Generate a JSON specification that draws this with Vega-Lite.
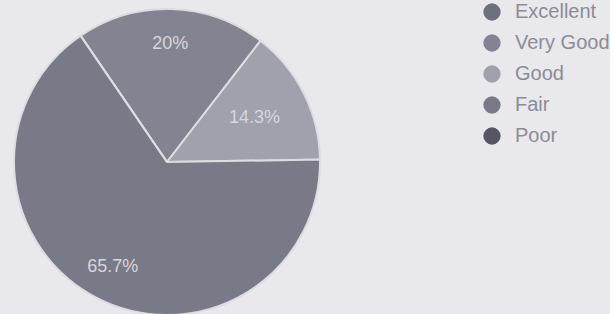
{
  "$schema": "https://vega.github.io/schema/vega-lite/v6.json",
  "width": 334,
  "height": 324,
  "padding": 0,
  "autosize": {"type": "pad"},
  "background": "#e8e8ed",
  "config": {
    "view": {"stroke": null},
    "font": "Liberation Sans"
  },
  "data": {
    "values": [
      {"rating": "Excellent", "rank": 1, "share": 0.0},
      {"rating": "Very Good", "rank": 2, "share": 0.2},
      {"rating": "Good", "rank": 3, "share": 0.143},
      {"rating": "Fair", "rank": 4, "share": 0.657},
      {"rating": "Poor", "rank": 5, "share": 0.0}
    ]
  },
  "encoding": {
    "theta": {"field": "share", "type": "quantitative", "stack": true, "scale": {"range": [-0.6, 5.6832]}},
    "order": {"field": "rank", "type": "quantitative"}
  },
  "layer": [
    {
      "mark": {"type": "arc", "outerRadius": 153, "stroke": "#dcdce2", "strokeWidth": 2},
      "encoding": {
        "color": {
          "field": "rating",
          "type": "nominal",
          "sort": ["Excellent", "Very Good", "Good", "Fair", "Poor"],
          "scale": {
            "domain": ["Excellent", "Very Good", "Good", "Fair", "Poor"],
            "range": ["#6e707e", "#828491", "#a0a1ad", "#787a87", "#555765"]
          },
          "legend": {
            "title": null,
            "orient": "none",
            "legendX": 482,
            "legendY": 2,
            "padding": 0,
            "symbolType": "circle",
            "symbolSize": 300,
            "symbolStrokeWidth": 0,
            "labelFontSize": 20,
            "labelColor": "#8c8c96",
            "labelFont": "Liberation Sans",
            "labelOffset": 13,
            "rowPadding": 11
          }
        }
      }
    },
    {
      "mark": {"type": "text", "radius": 118, "fontSize": 18, "color": "#d6d6dc", "font": "Liberation Sans"},
      "encoding": {
        "text": {
          "condition": {"test": "datum.share > 0 && datum.rating != 'Good'", "field": "share", "format": ".3~p"},
          "value": ""
        }
      }
    },
    {
      "mark": {"type": "text", "radius": 98, "fontSize": 18, "color": "#d6d6dc", "font": "Liberation Sans"},
      "encoding": {
        "text": {
          "condition": {"test": "datum.rating == 'Good'", "field": "share", "format": ".3~p"},
          "value": ""
        }
      }
    }
  ]
}
